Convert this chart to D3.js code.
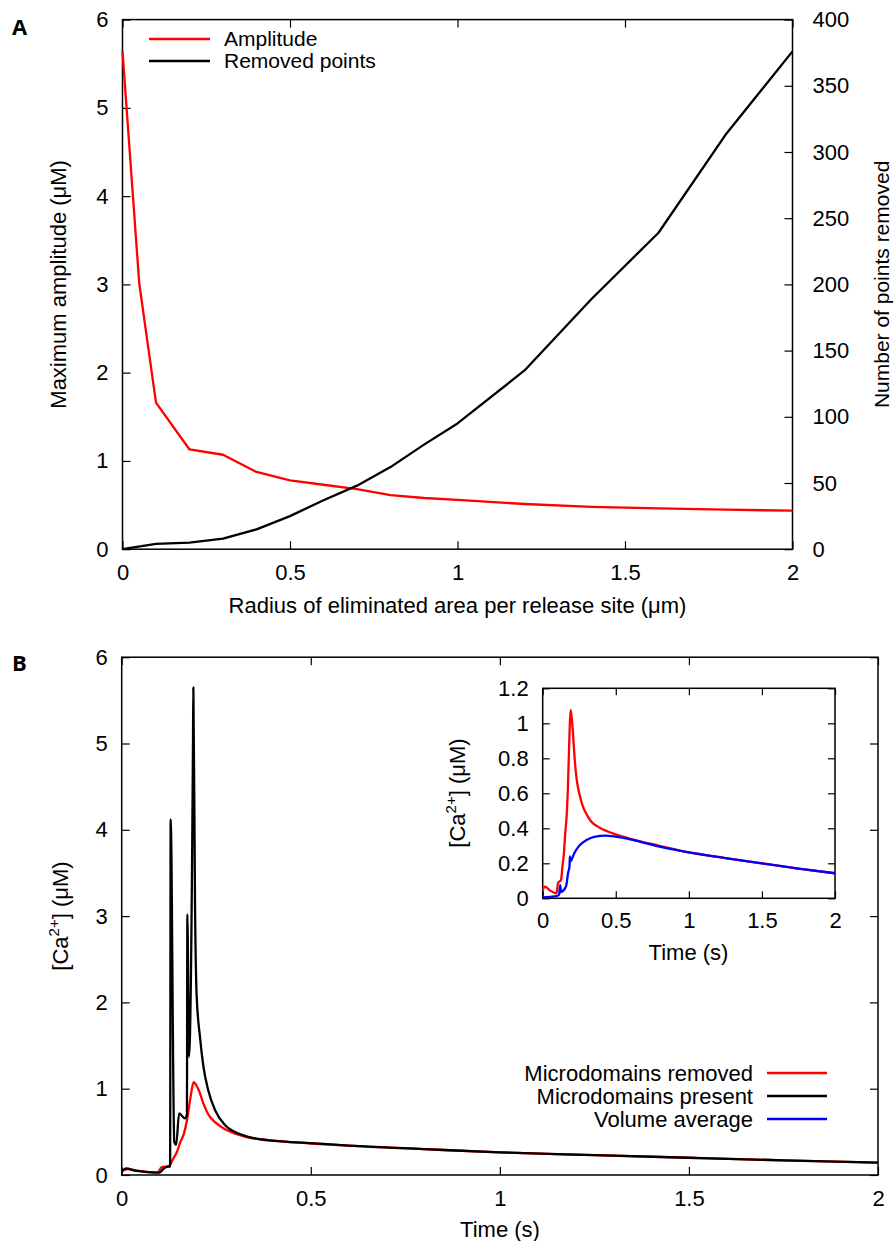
<!DOCTYPE html>
<html>
<head>
<meta charset="utf-8">
<script src="https://cdn.jsdelivr.net/npm/d3@7"></script>
<style>
    body { margin: 0; background: #fff; }
    svg { display: block; font-family: "Liberation Sans", Arial, sans-serif; }
    .tick line { stroke: #000; stroke-width: 1.2; }
    .tick text { font-size: 22px; fill: #000; font-family: "Liberation Sans", Arial, sans-serif; }
    .lbl { font-size: 22px; fill: #000; }
    .legA { font-size: 21px; fill: #000; }
    .panel { font-family: "Open Sans", sans-serif; font-weight: 700; font-size: 22px; }
</style>
</head>
<body>
<svg id="chart" width="895" height="1241"></svg>
<script>
// Panel A: amplitude and removed points vs radius
var ampRadius = [0, 0.05, 0.1, 0.2, 0.3, 0.4, 0.5, 0.6, 0.7, 0.8, 0.9, 1.0, 1.2, 1.4, 1.6, 1.8, 2.0];
var amplitude = [5.64, 3.01, 1.66, 1.13, 1.07, 0.875, 0.78, 0.73, 0.68, 0.612, 0.58, 0.559, 0.512, 0.48, 0.463, 0.448, 0.436];
var removedRadius = [0, 0.1, 0.2, 0.3, 0.4, 0.5, 0.6, 0.7, 0.8, 0.9, 1.0, 1.2, 1.4, 1.6, 1.8, 2.0];
var removedPoints = [0, 4, 5, 8, 15, 25, 37, 48, 62, 79, 95, 135, 189, 239, 313, 376];

// Panel B: [Ca2+] time courses
var presentT = [0, 0.012, 0.035, 0.1, 0.112, 0.124, 0.128, 0.1295, 0.139, 0.144, 0.152, 0.167, 0.1725, 0.1736, 0.178, 0.1885,
    0.1895, 0.194, 0.198, 0.207, 0.216, 0.229, 0.247, 0.273, 0.309, 0.352, 0.423, 0.511, 0.6, 0.8, 1.0, 1.25, 1.5, 1.75, 2.0];
var presentCa = [0.04, 0.077, 0.05, 0.028, 0.077, 0.096, 0.096, 4.12, 0.386, 0.35, 0.715, 0.656, 0.7, 3.02, 1.37, 5.0,
    5.65, 3.07, 2.1, 1.6, 1.26, 0.98, 0.75, 0.58, 0.48, 0.425, 0.39, 0.367, 0.34, 0.30, 0.262, 0.23, 0.2, 0.17, 0.143];
var removedT = [0, 0.016, 0.05, 0.095, 0.105, 0.125, 0.135, 0.146, 0.155, 0.164, 0.172, 0.182, 0.19, 0.196, 0.205, 0.216,
    0.228, 0.25, 0.273, 0.3, 0.33, 0.387, 0.45, 0.5, 0.6, 0.8, 1.0, 1.25, 1.5, 1.75, 2.0];
var removedCa = [0.045, 0.067, 0.045, 0.028, 0.088, 0.105, 0.18, 0.267, 0.38, 0.47, 0.62, 0.9, 1.075, 1.05, 0.97, 0.83,
    0.71, 0.6, 0.53, 0.48, 0.44, 0.405, 0.38, 0.365, 0.34, 0.30, 0.262, 0.23, 0.2, 0.17, 0.143];
var averageT = [0, 0.05, 0.095, 0.112, 0.12, 0.125, 0.135, 0.16, 0.175, 0.183, 0.186, 0.19, 0.2, 0.216, 0.25, 0.3, 0.36,
    0.43, 0.5, 0.6, 0.8, 1.0, 1.25, 1.5, 1.75, 2.0];
var averageCa = [0.005, 0.008, 0.012, 0.02, 0.075, 0.035, 0.04, 0.07, 0.15, 0.18, 0.24, 0.21, 0.225, 0.258, 0.3, 0.333, 0.352,
    0.358, 0.352, 0.337, 0.295, 0.262, 0.23, 0.2, 0.17, 0.143];

var xTicks = [0, 0.5, 1, 1.5, 2];
var ampTicks = [0, 1, 2, 3, 4, 5, 6];
var pointTicks = [0, 50, 100, 150, 200, 250, 300, 350, 400];
var caTicks = [0, 1, 2, 3, 4, 5, 6];
var insetTicks = [0, 0.2, 0.4, 0.6, 0.8, 1, 1.2];

var legendA = ["Amplitude", "Removed points"];
var legendB = ["Microdomains removed", "Microdomains present", "Volume average"];
var colors = { red: "#ff0000", black: "#000000", blue: "#0000ff" };

var svg = d3.select("#chart");
var fmt = d3.format("~g");

function pairs(xs, ys) {
    return xs.map(function (d, i) { return [d, ys[i]]; });
}

function addAxes(g, x, y, yTicks, tick, padX, padY, mirrorY) {
    var x0 = x.range()[0], x1 = x.range()[1], y0 = y.range()[0], y1 = y.range()[1];
    g.append("g").attr("transform", "translate(0," + y0 + ")")
        .call(d3.axisBottom(x).tickValues(xTicks).tickSize(-tick).tickPadding(padX).tickFormat(fmt));
    g.append("g").attr("transform", "translate(0," + y1 + ")")
        .call(d3.axisTop(x).tickValues(xTicks).tickSize(-tick).tickFormat(""));
    g.append("g").attr("transform", "translate(" + x0 + ",0)")
        .call(d3.axisLeft(y).tickValues(yTicks).tickSize(-tick).tickPadding(padY).tickFormat(fmt));
    if (mirrorY) {
        g.append("g").attr("transform", "translate(" + x1 + ",0)")
            .call(d3.axisRight(y).tickValues(yTicks).tickSize(-tick).tickFormat(""));
    }
    g.selectAll(".domain").remove();
    // gnuplot style box round the plot
    g.append("rect")
        .attr("x", x0).attr("y", y1)
        .attr("width", x1 - x0).attr("height", y0 - y1)
        .attr("fill", "none").attr("stroke", "#000").attr("stroke-width", 1.5);
}

function drawLine(g, data, x, y, color, curve) {
    var line = d3.line()
        .x(function (d) { return x(d[0]); })
        .y(function (d) { return y(d[1]); })
        .curve(curve);
    g.append("path")
        .datum(data)
        .attr("d", line)
        .attr("fill", "none")
        .attr("stroke", color)
        .attr("stroke-width", 2.3)
        .attr("stroke-linejoin", "round");
}

function vText(g, x, y, txt) {
    return g.append("text").attr("class", "lbl")
        .attr("transform", "translate(" + x + "," + y + ") rotate(-90)")
        .attr("text-anchor", "middle").attr("dy", "0.35em").text(txt);
}

function caLabel(g, x, y) {
    var t = g.append("text").attr("class", "lbl")
        .attr("transform", "translate(" + x + "," + y + ") rotate(-90)")
        .attr("text-anchor", "middle").attr("dy", "0.35em");
    t.append("tspan").text("[Ca");
    t.append("tspan").attr("dy", -9).style("font-size", "15px").text("2+");
    t.append("tspan").attr("dy", 9).text("] (\u03bcM)");
}

// ---------- panel A ----------
var gA = svg.append("g");
var xA = d3.scaleLinear().domain([0, 2]).range([122.5, 792.5]);
var yA = d3.scaleLinear().domain([0, 6]).range([549.2, 19.6]);
var yA2 = d3.scaleLinear().domain([0, 400]).range([549.2, 19.6]);

addAxes(gA, xA, yA, ampTicks, 8, 15, 14, false);
gA.append("g").attr("transform", "translate(792.5,0)")
    .call(d3.axisRight(yA2).tickValues(pointTicks).tickSize(-8).tickPadding(20).tickFormat(fmt))
    .select(".domain").remove();

drawLine(gA, pairs(ampRadius, amplitude), xA, yA, colors.red, d3.curveLinear);
drawLine(gA, pairs(removedRadius, removedPoints), xA, yA2, colors.black, d3.curveLinear);

legendA.forEach(function (name, i) {
    var yy = 39 + i * 22;
    gA.append("line").attr("x1", 149).attr("x2", 210).attr("y1", yy).attr("y2", yy)
        .attr("stroke", i == 0 ? colors.red : colors.black).attr("stroke-width", 2.3);
    gA.append("text").attr("class", "legA").attr("x", 224).attr("y", yy).attr("dy", "0.35em").text(name);
});

gA.append("text").attr("class", "lbl").attr("x", 457.5).attr("y", 605).attr("dy", "0.35em")
    .attr("text-anchor", "middle").text("Radius of eliminated area per release site (\u03bcm)");
vText(gA, 58, 284.4, "Maximum amplitude (\u03bcM)");
vText(gA, 882, 284.4, "Number of points removed").attr("class", "legA");
gA.append("text").attr("class", "panel").attr("x", 12).attr("y", 34.5).text("A");

// ---------- panel B ----------
var gB = svg.append("g");
var xB = d3.scaleLinear().domain([0, 2]).range([121.7, 878]);
var yB = d3.scaleLinear().domain([0, 6]).range([1175, 657.2]);

addAxes(gB, xB, yB, caTicks, 8, 15, 14, true);
drawLine(gB, pairs(removedT, removedCa), xB, yB, colors.red, d3.curveMonotoneX);
drawLine(gB, pairs(presentT, presentCa), xB, yB, colors.black, d3.curveMonotoneX);

legendB.forEach(function (name, i) {
    var yy = 1073 + i * 23;
    gB.append("text").attr("class", "lbl").attr("x", 753).attr("y", yy).attr("dy", "0.35em")
        .attr("text-anchor", "end").text(name);
    gB.append("line").attr("x1", 767).attr("x2", 827).attr("y1", yy).attr("y2", yy)
        .attr("stroke", [colors.red, colors.black, colors.blue][i]).attr("stroke-width", 2.3);
});

gB.append("text").attr("class", "lbl").attr("x", 500).attr("y", 1229).attr("dy", "0.35em")
    .attr("text-anchor", "middle").text("Time (s)");
caLabel(gB, 60, 916);
gB.append("text").attr("class", "panel").attr("x", 12).attr("y", 671).text("B");

// inset
var gI = svg.append("g");
var xI = d3.scaleLinear().domain([0, 2]).range([542.7, 835]);
var yI = d3.scaleLinear().domain([0, 1.2]).range([898.3, 688.3]);

addAxes(gI, xI, yI, insetTicks, 7, 14, 14, true);
drawLine(gI, pairs(removedT, removedCa), xI, yI, colors.red, d3.curveMonotoneX);
drawLine(gI, pairs(averageT, averageCa), xI, yI, colors.blue, d3.curveMonotoneX);

gI.append("text").attr("class", "lbl").attr("x", 688.5).attr("y", 952).attr("dy", "0.35em")
    .attr("text-anchor", "middle").text("Time (s)");
caLabel(gI, 457, 793);
</script>
</body>
</html>
